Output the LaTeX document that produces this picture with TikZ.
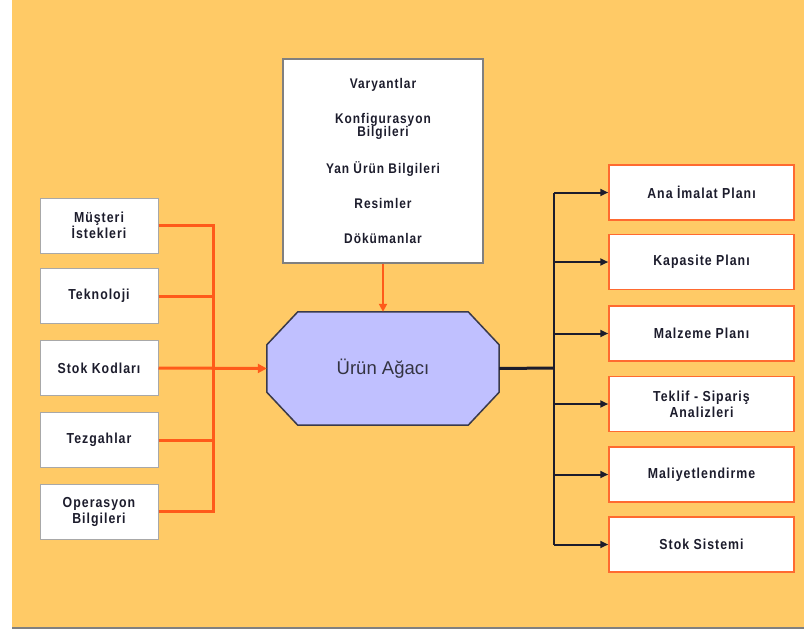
\documentclass[tikz,border=0pt]{standalone}
\usepackage{fontspec}
\setmainfont{Liberation Sans}
\newfontfamily\bxfont[LetterSpace=7,FakeStretch=0.85]{Liberation Sans}
\usetikzlibrary{arrows.meta,backgrounds}
\definecolor{bg}{HTML}{FFCA66}
\definecolor{oline}{HTML}{FF5A1A}
\definecolor{lav}{HTML}{C0C0FF}
\definecolor{dk}{HTML}{1C1C2C}
\definecolor{gb}{HTML}{A8A8A8}
\definecolor{ob}{HTML}{FF6A30}
\definecolor{octb}{HTML}{3A3A4A}
\begin{document}
\begin{tikzpicture}[x=1pt,y=-1pt,
  lbox/.style={draw=gb, line width=1pt, fill=white, minimum width=118pt, minimum height=55pt, inner sep=0pt, align=center, font=\bxfont\bfseries\fontsize{14.5}{16}\selectfont, text=dk},
  rbox/.style={lbox, draw=ob, line width=1.5pt, minimum width=185pt},
  tbox/.style={lbox, draw=gray, line width=1.3pt, minimum width=200pt, minimum height=204pt, font=\bxfont\bfseries\fontsize{14}{13.5}\selectfont},
  octnode/.style={minimum width=232pt, minimum height=113pt, inner sep=0pt, font=\fontsize{18.5}{22}\selectfont, text=dk!90},
  oconn/.style={draw=oline, line width=3pt},
  oarrow/.style={draw=oline, line width=3pt, -{Triangle[length=9pt,width=9pt]}},
  othin/.style={draw=oline, line width=2pt, -{Triangle[length=8pt,width=8pt]}},
  kconn/.style={draw=dk, line width=3pt},
  kbus/.style={draw=dk, line width=2pt},
  karrow/.style={draw=dk, line width=2pt, -{Triangle[length=8pt,width=7pt]}}
]
\useasboundingbox (0,0) rectangle (804,629);

% left boxes
\node[lbox] (l1) at (99,225.5) {Müşteri\\İstekleri};
\node[lbox] (l2) at (99,296) {Teknoloji};
\node[lbox] (l3) at (99,368) {Stok Kodları};
\node[lbox] (l4) at (99,440) {Tezgahlar};
\node[lbox] (l5) at (99,511.5) {Operasyon\\Bilgileri};

% top box
\node[tbox] (top) at (383,161) {Varyantlar\\[21.5pt]Konfigurasyon\\Bilgileri\\[21pt]Yan Ürün Bilgileri\\[21.5pt]Resimler\\[21.5pt]Dökümanlar};

% octagon
\node[octnode] (oct) at (383,368.5) {Ürün Ağacı};
\begin{pgfonlayer}{background}
\fill[bg] (12,0) rectangle (804,627);
\draw[gray, line width=1.5pt] (12,628) -- (804,628);
\path[fill=lav, draw=octb, line width=1.5pt]
  ([xshift=31pt]oct.north west) -- ([xshift=-31pt]oct.north east)
  -- ([yshift=-33pt]oct.north east) -- ([yshift=33pt]oct.south east)
  -- ([xshift=-31pt]oct.south east) -- ([xshift=31pt]oct.south west)
  -- ([yshift=33pt]oct.south west) -- ([yshift=-33pt]oct.north west) -- cycle;
\end{pgfonlayer}

% right boxes
\node[rbox] (r1) at (701.5,192.5) {Ana İmalat Planı};
\node[rbox] (r2) at (701.5,262) {Kapasite Planı};
\node[rbox] (r3) at (701.5,333.5) {Malzeme Planı};
\node[rbox] (r4) at (701.5,404) {Teklif - Sipariş\\Analizleri};
\node[rbox] (r5) at (701.5,474.5) {Maliyetlendirme};
\node[rbox] (r6) at (701.5,544.5) {Stok Sistemi};

% connectors left
\coordinate (bl) at (213,368);
\coordinate (br) at (554,368);
\foreach \n in {l1,l2,l4,l5} \draw[oconn] (\n.east) -- (\n.east -| bl);
\draw[oconn, line cap=rect] (l1.east -| bl) -- (l5.east -| bl);
\draw[oarrow] (l3.east) -- (oct.west);
\draw[othin] (top.south) -- (oct.north);

% connectors right
\draw[kconn] (oct.east) -- (br);
\draw[kbus] (r1.west -| br) -- (r6.west -| br);
\foreach \n in {r1,r2,r3,r4,r5,r6} \draw[karrow] (\n.west -| br) -- (\n.west);
\end{tikzpicture}
\end{document}
